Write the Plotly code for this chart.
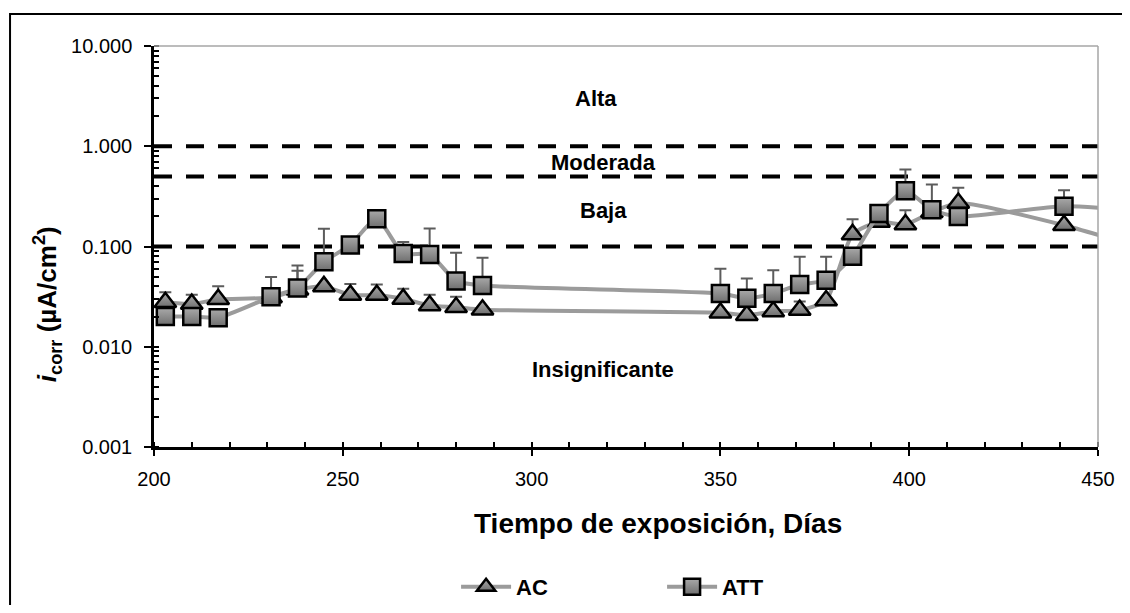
import math
import plotly.graph_objects as go

# exposure days
dias_ac = [203, 210, 217, 231, 238, 245, 252, 259, 266, 273, 280, 287,
           350, 357, 364, 371, 378, 385, 392, 399, 406, 413, 441, 462]
dias_att = [203, 210, 217, 231, 238, 245, 252, 259, 266, 273, 280, 287,
            350, 357, 364, 371, 378, 385, 392, 399, 406, 413, 441, 462]

# icorr (uA/cm2)
icorr_ac = [0.0278, 0.0267, 0.0297, 0.031, 0.037, 0.040, 0.0328, 0.0328, 0.030, 0.0258, 0.0248, 0.0234,
            0.0218, 0.0206, 0.0225, 0.0232, 0.0289, 0.132, 0.176, 0.166, 0.22, 0.272, 0.163, 0.095]
icorr_att = [0.020, 0.020, 0.0195, 0.0315, 0.0386, 0.0703, 0.1037, 0.189, 0.0852, 0.0833, 0.0454, 0.0408,
             0.034, 0.0305, 0.034, 0.0418, 0.046, 0.080, 0.213, 0.359, 0.232, 0.199, 0.252, 0.225]

# upper error bars
err_ac = [0.0071, 0.0064, 0.0104, 0.0, 0.0204, 0.0, 0.0095, 0.009, 0.0078, 0.0073, 0.0067, 0.0,
          0.0, 0.0, 0.0, 0.005, 0.0, 0.055, 0.0, 0.064, 0.0, 0.113, 0.0, 0.0]
err_att = [0.0, 0.0, 0.0, 0.018, 0.026, 0.080, 0.0, 0.0, 0.026, 0.068, 0.041, 0.0365,
           0.026, 0.0174, 0.024, 0.037, 0.033, 0.0, 0.0, 0.226, 0.183, 0.0, 0.112, 0.0]

# corrosion level limits and labels
limites = [1.0, 0.5, 0.1]
niveles = ["Alta", "Moderada", "Baja", "Insignificante"]
niveles_x = [317, 319, 319, 319]
niveles_y = [2.97, 0.682, 0.230, 0.00593]

FONT = "Arial, Liberation Sans, sans-serif"
fig = go.Figure()

for lim in limites:
    fig.add_trace(go.Scatter(
        x=[200, 450], y=[lim, lim], mode="lines",
        line=dict(color="black", width=4, dash="18px,14px"),
        showlegend=False, hoverinfo="skip",
    ))

fig.add_trace(go.Scatter(
    x=dias_ac, y=icorr_ac, name="AC", mode="lines+markers",
    line=dict(color="#9b9b9b", width=4, shape="spline", smoothing=0.6),
    marker=dict(symbol="triangle-up", size=19, color="#a9a9a9",
                gradient=dict(type="vertical", color="#6f6f6f"),
                line=dict(color="black", width=2.5)),
    error_y=dict(type="data", symmetric=False, array=err_ac,
                 arrayminus=[0] * len(err_ac), color="#5c5c5c", thickness=2, width=6),
))
fig.add_trace(go.Scatter(
    x=dias_att, y=icorr_att, name="ATT", mode="lines+markers",
    line=dict(color="#9b9b9b", width=4, shape="spline", smoothing=0.6),
    marker=dict(symbol="square", size=17, color="#a9a9a9",
                gradient=dict(type="vertical", color="#6f6f6f"),
                line=dict(color="black", width=2.5)),
    error_y=dict(type="data", symmetric=False, array=err_att,
                 arrayminus=[0] * len(err_att), color="#5c5c5c", thickness=2, width=6),
))

for txt, xx, yy in zip(niveles, niveles_x, niveles_y):
    fig.add_annotation(x=xx, y=math.log10(yy), text="<b>%s</b>" % txt, showarrow=False,
                       xanchor="center", yanchor="middle",
                       font=dict(family=FONT, size=22, color="black"))

fig.add_annotation(xref="paper", yref="paper", x=0.534, y=-0.19,
                   xanchor="center", yanchor="middle",
                   text="<b>Tiempo de exposición, Días</b>", showarrow=False,
                   font=dict(family=FONT, size=28, color="black"))
fig.add_annotation(xref="paper", yref="paper", x=-0.113, y=0.357, textangle=-90,
                   xanchor="center", yanchor="middle",
                   text="<b><i>i</i><sub>corr</sub> (µA/cm<sup>2</sup>)</b>", showarrow=False,
                   font=dict(family=FONT, size=26, color="black"))

# light frame on top / right, outer chart border
fig.add_shape(type="line", xref="paper", yref="paper", x0=0, x1=1, y0=1, y1=1,
              line=dict(color="#a6a6a6", width=1.5))
fig.add_shape(type="line", xref="paper", yref="paper", x0=1, x1=1, y0=0, y1=1,
              line=dict(color="#a6a6a6", width=1.5))
fig.add_shape(type="rect", xref="paper", yref="paper", x0=-0.1525, x1=1.06, y0=-0.47, y1=1.08,
              line=dict(color="black", width=2))

fig.update_layout(
    width=1114, height=597,
    margin=dict(l=146, r=24, t=38, b=158, autoexpand=False),
    paper_bgcolor="white", plot_bgcolor="white",
    font=dict(family=FONT, color="black"),
    legend=dict(orientation="h", x=0.32, y=-0.349, xanchor="left", yanchor="middle",
                font=dict(family=FONT, size=22, color="black", weight="bold"),
                entrywidth=141, entrywidthmode="pixels", itemwidth=50),
    xaxis=dict(range=[200, 450], dtick=50, showgrid=False, zeroline=False,
               showline=True, linecolor="black", linewidth=2.5,
               ticks="outside", ticklen=6, tickwidth=2, tickcolor="black",
               minor=dict(ticks="inside", dtick=10, ticklen=5, tickwidth=1.5, tickcolor="black"),
               tickfont=dict(family=FONT, size=20), ticklabelstandoff=6),
    yaxis=dict(type="log", range=[-3, 1], dtick=1, tickformat=".3f", showgrid=False,
               zeroline=False, showline=True, linecolor="black", linewidth=2.5,
               ticks="outside", ticklen=7, tickwidth=2, tickcolor="black",
               minor=dict(ticks="inside", ticklen=5, tickwidth=1.5, tickcolor="black", showgrid=False),
               tickfont=dict(family=FONT, size=20), ticklabelstandoff=8),
)

fig.write_html("out.html")
